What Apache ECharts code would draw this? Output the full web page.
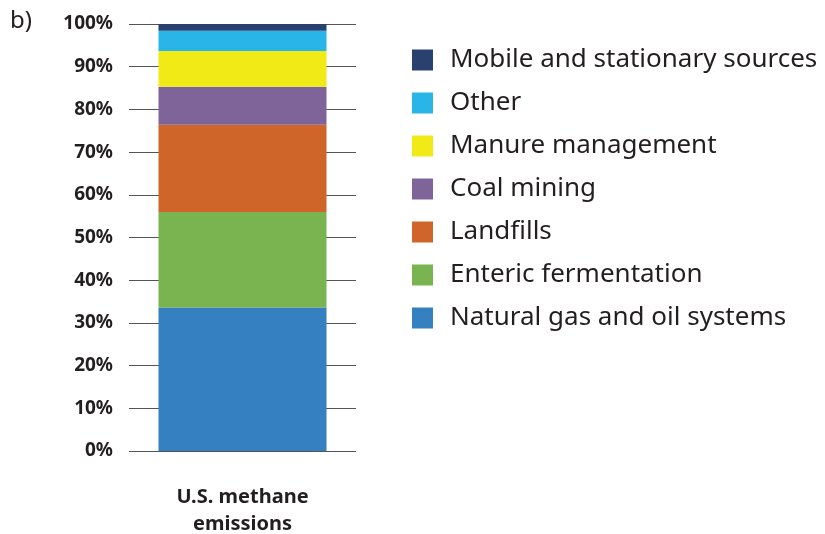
<!DOCTYPE html>
<html>
<head>
<meta charset="utf-8">
<script src="https://cdn.jsdelivr.net/npm/echarts@6/dist/echarts.min.js"></script>
<style>
  html, body { margin: 0; padding: 0; background: #fff; }
  #chart { width: 825px; height: 534px; }
</style>
</head>
<body>
<div id="chart"></div>
<script>
// categories and values (percent of total)
var categories = ["U.S. methane\nemissions"];
var seriesNames = [
  "Natural gas and oil systems",
  "Enteric fermentation",
  "Landfills",
  "Coal mining",
  "Manure management",
  "Other",
  "Mobile and stationary sources"
];
var seriesValues = [
  [33.6],
  [22.4],
  [20.4],
  [8.9],
  [8.4],
  [4.7],
  [1.6]
];
var seriesColors = ["#3580c1", "#79b450", "#cf6528", "#7f6499", "#f2ea17", "#29b5e8", "#2a4170"];
var yTicks = [0, 10, 20, 30, 40, 50, 60, 70, 80, 90, 100];

var chart = echarts.init(document.getElementById("chart"));

var series = seriesNames.map(function (name, i) {
  return {
    name: name,
    type: "bar",
    stack: "total",
    barWidth: 168,
    data: seriesValues[i],
    itemStyle: { color: seriesColors[i] },
    z: 3
  };
});

chart.setOption({
  animation: false,
  textStyle: { fontFamily: "Noto Sans" },
  graphic: [
    {
      type: "text",
      left: 10,
      top: 9,
      style: { text: "b)", fontSize: 24, fill: "#231f20", fontFamily: "Noto Sans" }
    }
  ],
  legend: {
    orient: "vertical",
    left: 407,
    top: 42,
    itemWidth: 21,
    itemHeight: 21,
    itemGap: 17,
    icon: "rect",
    data: seriesNames.slice().reverse(),
    textStyle: { fontSize: 26, color: "#231f20", padding: [0, 0, 0, 12] }
  },
  grid: {
    left: 129,
    right: 469,
    top: 24,
    bottom: 83,
    outerBoundsMode: "none",
    containLabel: false
  },
  xAxis: {
    type: "category",
    data: categories,
    axisLine: { show: false },
    axisTick: { show: false },
    axisLabel: {
      margin: 33,
      fontSize: 20,
      fontWeight: "bold",
      color: "#231f20",
      lineHeight: 27
    }
  },
  yAxis: {
    type: "value",
    min: yTicks[0],
    max: yTicks[yTicks.length - 1],
    interval: 10,
    axisLine: { show: false },
    axisTick: { show: false },
    splitLine: { lineStyle: { color: "#555", width: 1.2 } },
    axisLabel: {
      margin: 16,
      formatter: "{value}%",
      fontSize: 19,
      fontWeight: "bold",
      color: "#231f20"
    }
  },
  series: series
});
</script>
</body>
</html>
